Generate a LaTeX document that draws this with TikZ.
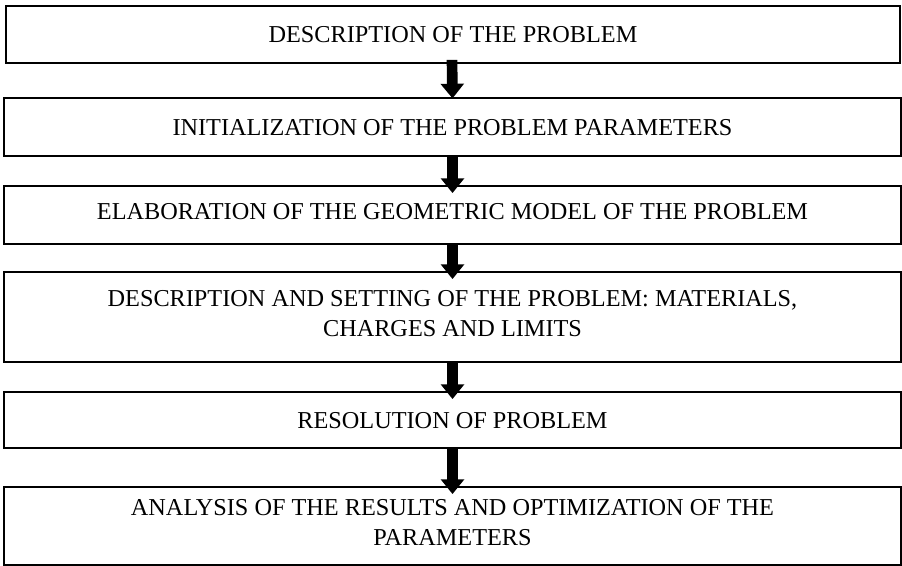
\documentclass[tikz,border=0pt]{standalone}
\usepackage{fontspec}
\setmainfont{Liberation Serif}
\usetikzlibrary{arrows.meta,positioning}

\tikzset{
  stepbox/.style={draw,line width=1.4pt,inner sep=0pt,text depth=0pt,align=center,
    font=\fontsize{18.2}{22.5}\selectfont},
  flowarrow/.style={line width=8pt,-{Triangle[width=17pt,length=11pt]}}
}

\begin{document}
\begin{tikzpicture}[x=0.75pt,y=-0.75pt]
    \useasboundingbox (0,0) rectangle (902,566);
    % process steps
    \node[stepbox,minimum width=894*0.75pt,minimum height=57*0.75pt] (desc) at (453,34.5) {DESCRIPTION OF THE PROBLEM};
    \node[stepbox,minimum width=897*0.75pt,minimum height=58*0.75pt] (init) at (452.5,127) {INITIALIZATION OF THE PROBLEM PARAMETERS};
    \node[stepbox,text depth=6pt,minimum width=897*0.75pt,minimum height=58*0.75pt] (geom) at (452.5,215) {ELABORATION OF THE GEOMETRIC MODEL OF THE PROBLEM};
    \node[stepbox,text depth=6pt,minimum width=897*0.75pt,minimum height=90*0.75pt] (sett) at (452.5,317) {DESCRIPTION AND SETTING OF THE PROBLEM: MATERIALS,\\ CHARGES AND LIMITS};
    \node[stepbox,minimum width=897*0.75pt,minimum height=56*0.75pt] (reso) at (452.5,420) {RESOLUTION OF PROBLEM};
    \node[stepbox,text depth=6pt,minimum width=897*0.75pt,minimum height=78*0.75pt] (anal) at (452.5,526) {ANALYSIS OF THE RESULTS AND OPTIMIZATION OF THE\\ PARAMETERS};
    % arrows
    \draw[flowarrow] ([xshift=-0.75pt,yshift=3pt]desc.south) -- ([yshift=-1pt]init.north);
    \draw[flowarrow] (init.south) -- ([yshift=-6pt]geom.north);
    \draw[flowarrow] (geom.south) -- ([yshift=-6pt]sett.north);
    \draw[flowarrow] (sett.south) -- ([yshift=-6pt]reso.north);
    \draw[flowarrow] (reso.south) -- ([yshift=-6pt]anal.north);
\end{tikzpicture}
\end{document}
